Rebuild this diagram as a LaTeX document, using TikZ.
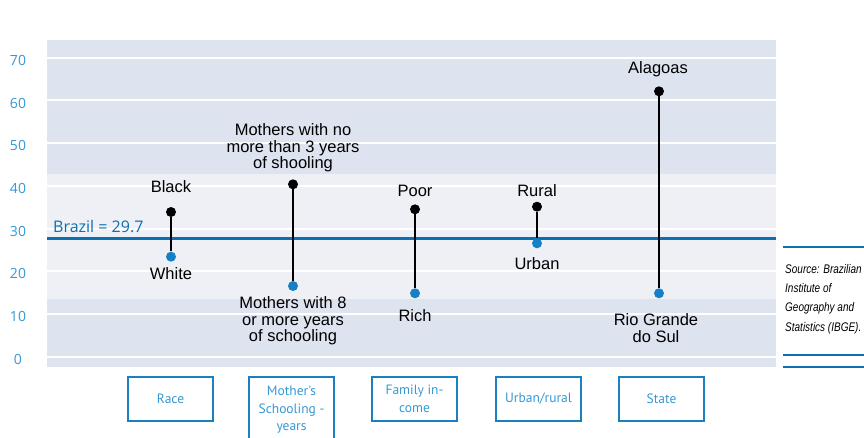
\documentclass[tikz,border=0pt]{standalone}
\usepackage{fontspec}
\setmainfont{Liberation Sans}
\newfontfamily\labelfont{Liberation Sans}
\newfontfamily\bluefont{Open Sans}
\newfontfamily\boxfont{PT Sans}
\newfontfamily\notefont[FakeStretch=0.8]{Liberation Sans}

\definecolor{bgdark}{RGB}{222,227,240}
\definecolor{bglight}{RGB}{238,240,246}
\definecolor{linblue}{RGB}{10,112,178}
\definecolor{dotblue}{RGB}{22,128,198}
\definecolor{axisblue}{RGB}{52,152,212}
\definecolor{boxblue}{RGB}{26,128,194}

\tikzset{
  topdot/.style={circle,fill=black,inner sep=0pt,minimum size=10pt},
  lowdot/.style={circle,fill=dotblue,inner sep=0pt,minimum size=10pt},
  stem/.style={line width=2.3pt},
  vlabel/.style={font=\labelfont\fontsize{16.5}{16.5}\selectfont,align=center,inner sep=0pt},
  catbox/.style={draw=boxblue,line width=1.2pt,text=axisblue,align=center,
    font=\boxfont\fontsize{13.5}{17.5}\selectfont,minimum width=85pt,minimum height=44pt,inner sep=2pt},
}

\begin{document}
\begin{tikzpicture}[x=1pt,y=-1pt]
  \useasboundingbox (0,0) rectangle (864,438);

  % plot area
  \fill[bgdark]  (47,40)  rectangle (776,367);
  \fill[bglight] (47,174) rectangle (776,299);
  \foreach \v in {0,10,...,70}
    \draw[white,line width=2pt] (47,356.7-4.27*\v) -- (776,356.7-4.27*\v);
  \foreach \v in {0,10,...,70}
    \node[text=axisblue,font=\bluefont\fontsize{14}{14}\selectfont] (ax\v) at (18,359.2-4.27*\v) {\v};

  % national average
  \coordinate (bra-w) at (47,238.3);
  \coordinate (bra-e) at (776,238.3);
  \draw[linblue,line width=2.6pt] (bra-w) -- (bra-e);
  \node[anchor=west,inner sep=0pt,text=linblue,font=\bluefont\fontsize{16}{16}\selectfont] (bralabel) at (53,227) {Brazil = 29.7};

  % dumbbells
  \node[topdot] (black)    at (171,212)   {};
  \node[lowdot] (white)    at (171,256.7) {};
  \node[topdot] (mothno)   at (293,184.3) {};
  \node[lowdot] (moth8)    at (293,286)   {};
  \node[topdot] (poor)     at (415,209.3) {};
  \node[lowdot] (rich)     at (415,293.3) {};
  \node[topdot] (rural)    at (537,206.7) {};
  \node[lowdot] (urban)    at (537,243.3) {};
  \node[topdot] (alagoas)  at (659,91.3)  {};
  \node[lowdot] (riogrande) at (659,293.3) {};
  \draw[stem] (black)   -- (white);
  \draw[stem] (mothno)  -- (moth8);
  \draw[stem] (poor)    -- (rich);
  \draw[stem] (rural)   -- (urban);
  \draw[stem] (alagoas) -- (riogrande);

  % labels
  \node[vlabel] (lblack)  at (171,187) {Black};
  \node[vlabel] (lwhite)  at (171,274) {White};
  \node[vlabel] (lmothno) at (293,148) {Mothers with no\\more than 3 years\\of shooling};
  \node[vlabel] (lmoth8)  at (293,321) {Mothers with 8\\or more years\\of schooling};
  \node[vlabel] (lpoor)   at (415,191) {Poor};
  \node[vlabel] (lrich)   at (415,316) {Rich};
  \node[vlabel] (lrural)  at (537,191) {Rural};
  \node[vlabel] (lurban)  at (537,264) {Urban};
  \node[vlabel] (lalag)   at (658,69)  {Alagoas};
  \node[vlabel] (lrio)    at (656,328) {Rio Grande\\do Sul};

  % categories
  \node[catbox] (race)   at (170.5,399) {Race};
  \node[catbox,minimum height=66pt] (school) at (291.5,410) {Mother's\\Schooling -\\years};
  \node[catbox] (income) at (414.5,399) {Family in-\\come};
  \node[catbox] (urbrur) at (538.5,399) {Urban/rural};
  \node[catbox] (state)  at (661.5,399) {State};

  % source note
  \coordinate (rule-w) at (783,247);
  \coordinate (rule-e) at (864,247);
  \draw[linblue,line width=1.4pt] (rule-w) -- (rule-e);
  \node[anchor=north west,align=left,inner sep=0pt,
    font=\notefont\itshape\fontsize{12.5}{19.3}\selectfont] (source) at (785,264)
    {Source: Brazilian\\Institute of\\Geography and\\Statistics (IBGE).};
  \coordinate (foot1-w) at (783,355);
  \coordinate (foot1-e) at (864,355);
  \coordinate (foot2-w) at (783,367);
  \coordinate (foot2-e) at (864,367);
  \draw[linblue,line width=1.8pt] (foot1-w) -- (foot1-e);
  \draw[linblue,line width=2.6pt] (foot2-w) -- (foot2-e);
\end{tikzpicture}
\end{document}
